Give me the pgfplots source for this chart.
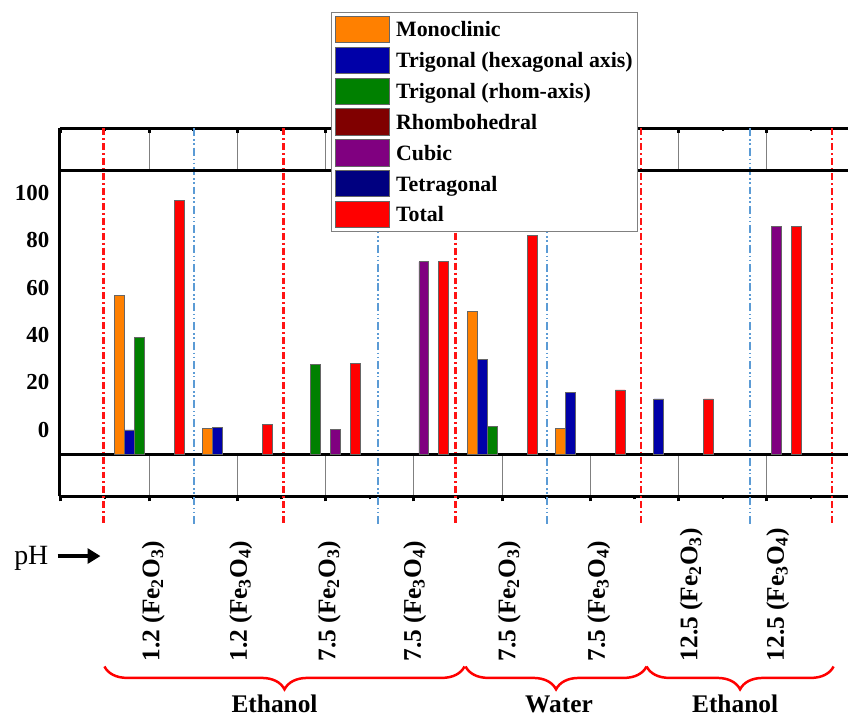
\documentclass[border=0pt]{standalone}
\usepackage{fontspec}
\setmainfont{Liberation Serif}
\usepackage{pgfplots}
\pgfplotsset{compat=1.18}
\usetikzlibrary{arrows.meta,decorations.pathreplacing}

\definecolor{cMono}{RGB}{255,128,0}
\definecolor{cHex}{RGB}{0,0,168}
\definecolor{cRhom}{RGB}{0,128,0}
\definecolor{cRhombo}{RGB}{128,0,0}
\definecolor{cCubic}{RGB}{128,0,128}
\definecolor{cTetra}{RGB}{0,0,128}
\definecolor{cTotal}{RGB}{255,0,0}
\definecolor{cBlueLine}{RGB}{91,155,213}
\definecolor{cRedLine}{RGB}{255,20,20}

\pgfplotsset{
  sw/.style={legend image code/.code={\draw[##1] (0pt,-13.3pt) rectangle (55pt,13.3pt);}},
  strip/.style={scale only axis, width=792pt, height=42pt,
    xmin=-0.01454, xmax=8.9134, ymin=0, ymax=1,
    ytick=\empty, xtick={0,...,8}, minor xtick={0.5,1.5,...,8.5}, xticklabels={},
    axis x line*=box, axis y line*=left,
    axis line style={line width=3pt, black},
    xmajorgrids, major grid style={black!50, line width=1pt},
    major tick length=5pt, minor tick length=3pt,
    major tick style={black, line width=3pt},
    minor tick style={black, line width=2.5pt}},
  barsty/.style={ybar, draw=black!60, line width=0.8pt, sw},
}

\begin{document}
\begin{tikzpicture}
% pixel frame: (X,Y) image pixels
\begin{scope}[x=1pt,y=-1pt,shift={(-60pt,457pt)}]
  \path[use as bounding box] (0,0) rectangle (849,720);
\end{scope}

% top strip
\begin{axis}[strip, at={(0pt,286pt)}, anchor=south west, xtick pos=upper, tick align=inside]
\end{axis}
% bottom strip
\begin{axis}[strip, at={(0pt,0pt)}, anchor=north west, xtick pos=lower, tick align=outside]
\end{axis}

\begin{scope}[x=1pt,y=-1pt,shift={(-60pt,457pt)}]
  \foreach \X in {104,285,458,644,836}
    \draw[cRedLine, line width=2.2pt, dash pattern=on 7pt off 3pt on 2pt off 3pt] (\X,129) -- (\X,527);
  \foreach \X in {195,380,550,754}
    \draw[cBlueLine, line width=1.5pt, dash pattern=on 8pt off 3pt on 1.5pt off 2.5pt on 1.5pt off 3pt] (\X,129) -- (\X,527);
  % pH arrow
  \node[anchor=base, inner sep=0pt, font=\fontsize{28}{28}\selectfont] at (31.5,567) {pH};
  \draw[line width=4pt, -{Triangle[length=13pt,width=15pt]}] (58,559) -- (101,559);
  % category labels
  \foreach \X/\T in {154/{1.2 (Fe\textsubscript{2}O\textsubscript{3})},
                     242/{1.2 (Fe\textsubscript{3}O\textsubscript{4})},
                     331/{7.5 (Fe\textsubscript{2}O\textsubscript{3})},
                     417/{7.5 (Fe\textsubscript{3}O\textsubscript{4})},
                     512/{7.5 (Fe\textsubscript{2}O\textsubscript{3})},
                     602/{7.5 (Fe\textsubscript{3}O\textsubscript{4})},
                     695/{12.5 (Fe\textsubscript{2}O\textsubscript{3})},
                     782/{12.5 (Fe\textsubscript{3}O\textsubscript{4})}}
    \node[rotate=90, anchor=west, inner sep=0pt, font=\fontsize{25.5}{25.5}\selectfont\bfseries] at (\X,665) {\T};
  % braces
  \draw[cTotal, line width=2.5pt, decorate, decoration={brace, mirror, amplitude=23pt, aspect=0.5}] (105,670) -- (467,670);
  \draw[cTotal, line width=2.5pt, decorate, decoration={brace, mirror, amplitude=23pt, aspect=0.5}] (468,670) -- (650,670);
  \draw[cTotal, line width=2.5pt, decorate, decoration={brace, mirror, amplitude=23pt, aspect=0.5}] (650,670) -- (838,670);
  \node[anchor=base, inner sep=0pt, font=\fontsize{25.5}{25.5}\selectfont\bfseries] at (276,716) {Ethanol};
  \node[anchor=base, inner sep=0pt, font=\fontsize{25.5}{25.5}\selectfont\bfseries] at (562,716) {Water};
  \node[anchor=base, inner sep=0pt, font=\fontsize{25.5}{25.5}\selectfont\bfseries] at (739,716) {Ethanol};
\end{scope}

% main axis
\begin{axis}[at={(0pt,0pt)}, anchor=south west, scale only axis,
  width=792pt, height=286pt,
  xmin=-0.01454, xmax=8.9134, ymin=0, ymax=120.17,
  axis x line*=box, axis y line*=left,
  axis line style={line width=3pt, black},
  xtick=\empty,
  ytick={10.5,30.5,50.5,70.5,90.5,110.5},
  yticklabels={0,20,40,60,80,100},
  /pgf/number format/assume math mode=true,
  major tick length=0pt,
  yticklabel style={font=\fontsize{23}{23}\selectfont\bfseries, xshift=-7pt},
  ybar, bar width=0.1127,
  clip=false,
  legend cell align=left,
  legend style={at={(0.3447,1.5559)}, anchor=north west, draw=black!50, line width=0.8pt,
    fill=white, font=\fontsize{22}{23}\selectfont\bfseries,
    inner xsep=3pt, inner ysep=3.5pt, row sep=3.6pt, column sep=4pt,
    nodes={inner xsep=2pt, inner ysep=2pt, text height=15pt, text depth=0pt}},
]
\addplot[barsty, fill=cMono, bar shift=-0.3382] coordinates {(1,67.3) (2,11.1) (5,60.5) (6,11.1)};
\addlegendentry{Monoclinic}
\addplot[barsty, fill=cHex, bar shift=-0.2255] coordinates {(1,10.4) (2,11.6) (5,40.2) (6,26.2) (7,23.5)};
\addlegendentry{Trigonal (hexagonal axis)}
\addplot[barsty, fill=cRhom, bar shift=-0.1127] coordinates {(1,49.3) (3,37.9) (5,11.9)};
\addlegendentry{Trigonal (rhom-axis)}
\addlegendimage{fill=cRhombo, draw=black!60, line width=0.8pt, sw}
\addlegendentry{Rhombohedral}
\addplot[barsty, fill=cCubic, bar shift=0.1127] coordinates {(3,10.6) (4,81.4) (8,96.3)};
\addlegendentry{Cubic}
\addlegendimage{fill=cTetra, draw=black!60, line width=0.8pt, sw}
\addlegendentry{Tetragonal}
\addplot[barsty, fill=cTotal, bar shift=0.3382] coordinates {(1,107.3) (2,12.7) (3,38.5) (4,81.4) (5,92.4) (6,27.3) (7,23.5) (8,96.3)};
\addlegendentry{Total}
\end{axis}
\end{tikzpicture}
\end{document}
